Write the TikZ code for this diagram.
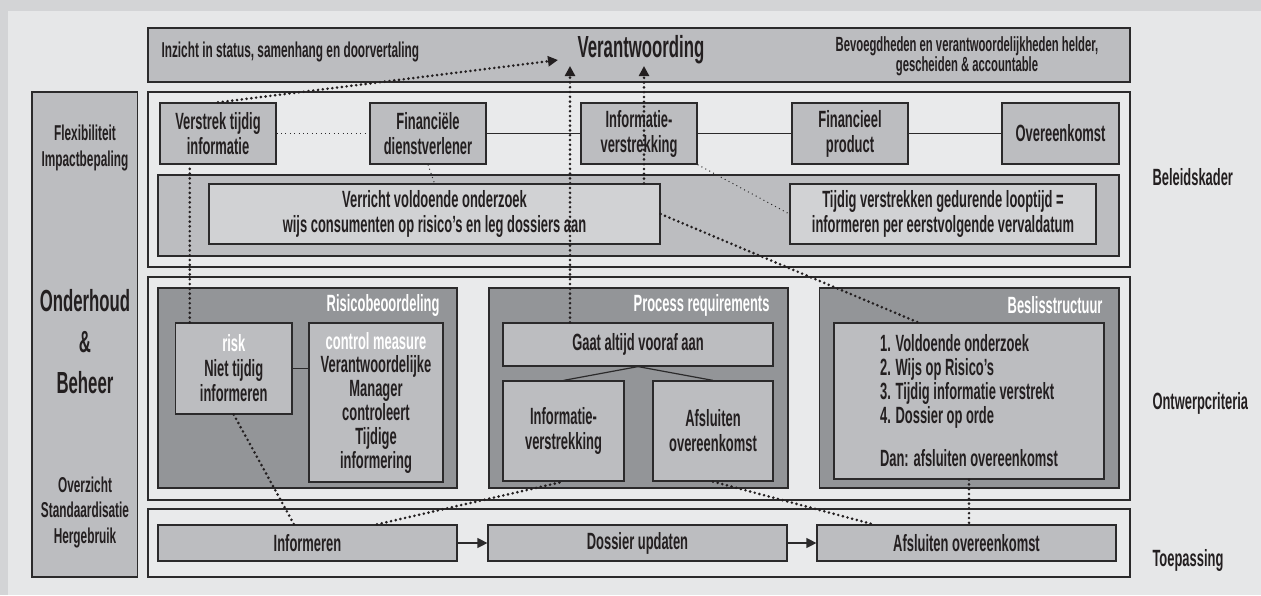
\documentclass[tikz,border=0pt]{standalone}
\usepackage{fontspec}
\setmainfont{Liberation Sans}[FakeStretch=0.55]
\usetikzlibrary{arrows.meta}

\definecolor{outerbg}{HTML}{D3D4D6}
\definecolor{innerbg}{HTML}{E6E7E8}
\definecolor{panelbg}{HTML}{E9EAEB}
\definecolor{midgray}{HTML}{BCBDC0}
\definecolor{darkgray}{HTML}{939598}
\definecolor{lightgray}{HTML}{D1D2D4}
\definecolor{linegray}{HTML}{2B2A2B}
\definecolor{inkgray}{HTML}{231F20}

\newcommand{\fnorm}{\fontsize{23.5}{25}\selectfont\bfseries}
\newcommand{\fsmall}{\fontsize{21.5}{26}\selectfont\bfseries}
\newcommand{\fbig}{\fontsize{30.5}{41}\selectfont\bfseries}

\begin{document}
\begin{tikzpicture}[x=1pt, y=-1pt,
    box/.style={draw=linegray, line width=1.2pt, fill=midgray, inner sep=0pt,
        align=center, font=\fnorm, text=inkgray},
    litebox/.style={box, fill=lightgray},
    panel/.style={draw=linegray, line width=1.2pt, fill=panelbg},
    band/.style={draw=linegray, line width=1.2pt, fill=midgray},
    area/.style={draw=linegray, line width=1.2pt, fill=darkgray},
    title/.style={anchor=east, font=\fnorm, text=white},
    label/.style={anchor=west, font=\fnorm, text=inkgray},
    link/.style={draw=linegray, line width=1.2pt},
    thindot/.style={draw=linegray, line width=1pt, dash pattern=on 1pt off 3.4pt},
    dotline/.style={draw=inkgray, line width=2.9pt, line cap=round, dash pattern=on 0pt off 4.8pt},
    tip/.style={-{Triangle[length=10pt,width=10pt]}}]

    \useasboundingbox (0,0) rectangle (1261,595);
    % background
    \fill[outerbg] (0,0) rectangle (1261,595);
    \fill[innerbg] (8,11) rectangle (1261,595);

    % top band
    \draw[band] (148,28) rectangle (1130,82);
    \node[anchor=west, font=\fsmall, text=inkgray] (inzicht) at (158,52)
        {Inzicht in status, samenhang en doorvertaling};
    \node[font=\fontsize{30.5}{32}\selectfont\bfseries, text=inkgray] (verant) at (641,50) {Verantwoording};
    \node[align=center, font=\fontsize{20.5}{20}\selectfont\bfseries, text=inkgray] (bevoegd) at (967,56)
        {Bevoegdheden en verantwoordelijkheden helder,\\ gescheiden \& accountable};

    % left column
    \draw[band] (32,92) rectangle (137.5,577);
    \node[align=center, font=\fsmall, text=inkgray] (flex) at (85,148) {Flexibiliteit\\ Impactbepaling};
    \node[align=center, font=\fbig, text=inkgray] (onderhoud) at (85,342) {Onderhoud\\ \&\\ Beheer};
    \node[align=center, font=\fontsize{21.5}{25.5}\selectfont\bfseries, text=inkgray] (overzicht) at (85,512)
        {Overzicht\\ Standaardisatie\\ Hergebruik};

    % Beleidskader
    \draw[panel] (148,92) rectangle (1130,267);
    \draw[band] (158,175) rectangle (1119,256);
    \node[box, minimum width=116pt, minimum height=61pt] (verstrek) at (218,133.5) {Verstrek tijdig\\ informatie};
    \node[box, minimum width=116pt, minimum height=61pt] (dienst) at (428,133.5) {Financiële\\ dienstverlener};
    \node[box, minimum width=116pt, minimum height=61pt] (infotop) at (639,133.5) {Informatie-\\ verstrekking};
    \node[box, minimum width=116pt, minimum height=61pt] (product) at (850,133.5) {Financieel\\ product};
    \node[box, minimum width=117pt, minimum height=61pt] (overeen) at (1060.5,133.5) {Overeenkomst};
    \node[litebox, minimum width=451pt, minimum height=60pt] (verricht) at (434.5,214)
        {Verricht voldoende onderzoek\\ wijs consumenten op risico’s en leg dossiers aan};
    \node[litebox, minimum width=306pt, minimum height=60pt] (looptijd) at (943,214)
        {Tijdig verstrekken gedurende looptijd =\\ informeren per eerstvolgende vervaldatum};
    \draw[thindot] (verstrek.east) -- (dienst.west);
    \draw[link] (dienst.east) -- (infotop.west);
    \draw[link] (infotop.east) -- (product.west);
    \draw[link] (product.east) -- (overeen.west);
    \draw[thindot] (dienst.south) -- (verricht.north);
    \draw[thindot] (infotop.south east) -- (looptijd.west);
    \node[label] (beleid) at (1149,177) {Beleidskader};

    % Ontwerpcriteria
    \draw[panel] (148,277) rectangle (1130,500);
    \draw[area] (158,288) rectangle (457,488);
    \draw[area] (489,288) rectangle (788,488);
    \draw[area] (819.5,288) rectangle (1119,488);
    \node[title] (risktitle) at (443,305) {Risicobeoordeling};
    \node[title] (proctitle) at (773,305) {Process requirements};
    \node[title] (beslistitle) at (1106,305) {Beslisstructuur};

    \node[box, minimum width=116.5pt, minimum height=91pt] (risk) at (233.75,368.5)
        {\textcolor{white}{risk}\\ Niet tijdig\\ informeren};
    \node[box, minimum width=134pt, minimum height=159pt, font=\fontsize{23.5}{23.8}\selectfont\bfseries] (control) at (376,402.5)
        {\textcolor{white}{control measure}\\ Verantwoordelijke\\ Manager\\ controleert\\ Tijdige\\ informering};
    \draw[link] (risk.east) -- (risk.east -| control.west);

    \node[box, minimum width=270pt, minimum height=43pt] (gaat) at (638,344.5) {Gaat altijd vooraf aan};
    \node[box, minimum width=121pt, minimum height=100pt] (pinfo) at (563.5,431) {Informatie-\\ verstrekking};
    \node[box, minimum width=120pt, minimum height=100pt] (pafsl) at (713,431) {Afsluiten\\ overeenkomst};
    \draw[link] (gaat.south) -- (pinfo.north);
    \draw[link] (gaat.south) -- (pafsl.north);

    \node[box, align=left, minimum width=270pt, minimum height=156pt, font=\fontsize{23.5}{24}\selectfont\bfseries] (beslist) at (969,401)
        {1. Voldoende onderzoek\\ 2. Wijs op Risico’s\\ 3. Tijdig informatie verstrekt\\ 4. Dossier op orde\\[19pt]
         Dan: afsluiten overeenkomst};
    \node[label] (ontwerp) at (1149,403) {Ontwerpcriteria};

    % Toepassing
    \draw[panel] (148,509) rectangle (1130,577);
    \node[box, minimum width=299pt, minimum height=36pt] (inform) at (307.5,543) {Informeren};
    \node[box, minimum width=299pt, minimum height=36pt] (dossier) at (637.5,543) {Dossier updaten};
    \node[box, minimum width=299pt, minimum height=36pt] (afsluit) at (966.5,543) {Afsluiten overeenkomst};
    \draw[link, tip] (inform.east) -- (dossier.west);
    \draw[link, tip] (dossier.east) -- (afsluit.west);
    \node[label] (toepas) at (1149,560) {Toepassing};

    % dotted relations
    \coordinate (tipA) at (558,60);
    \coordinate (tipB) at (570,66);
    \coordinate (tipC) at (644,66);
    \draw[dotline, tip] (verstrek.north) -- (tipA);
    \draw[dotline, tip] (tipB |- gaat.north) -- (tipB);
    \draw[dotline, tip] (tipC |- verricht.north) -- (tipC);
    \draw[dotline] ([xshift=-44pt]risk.north) -- ([xshift=-44pt]risk.north |- verstrek.south);
    \draw[dotline] (verricht.east) -- ([xshift=-51pt]beslist.north);
    \draw[dotline] (risk.south) -- ([xshift=-13.5pt]inform.north);
    \draw[dotline] ([xshift=69.5pt]inform.north) -- (pinfo.south);
    \draw[dotline] (pafsl.south) -- ([xshift=-93pt]afsluit.north);
    \draw[dotline] (beslist.south) -- (beslist.south |- afsluit.north);
\end{tikzpicture}
\end{document}
